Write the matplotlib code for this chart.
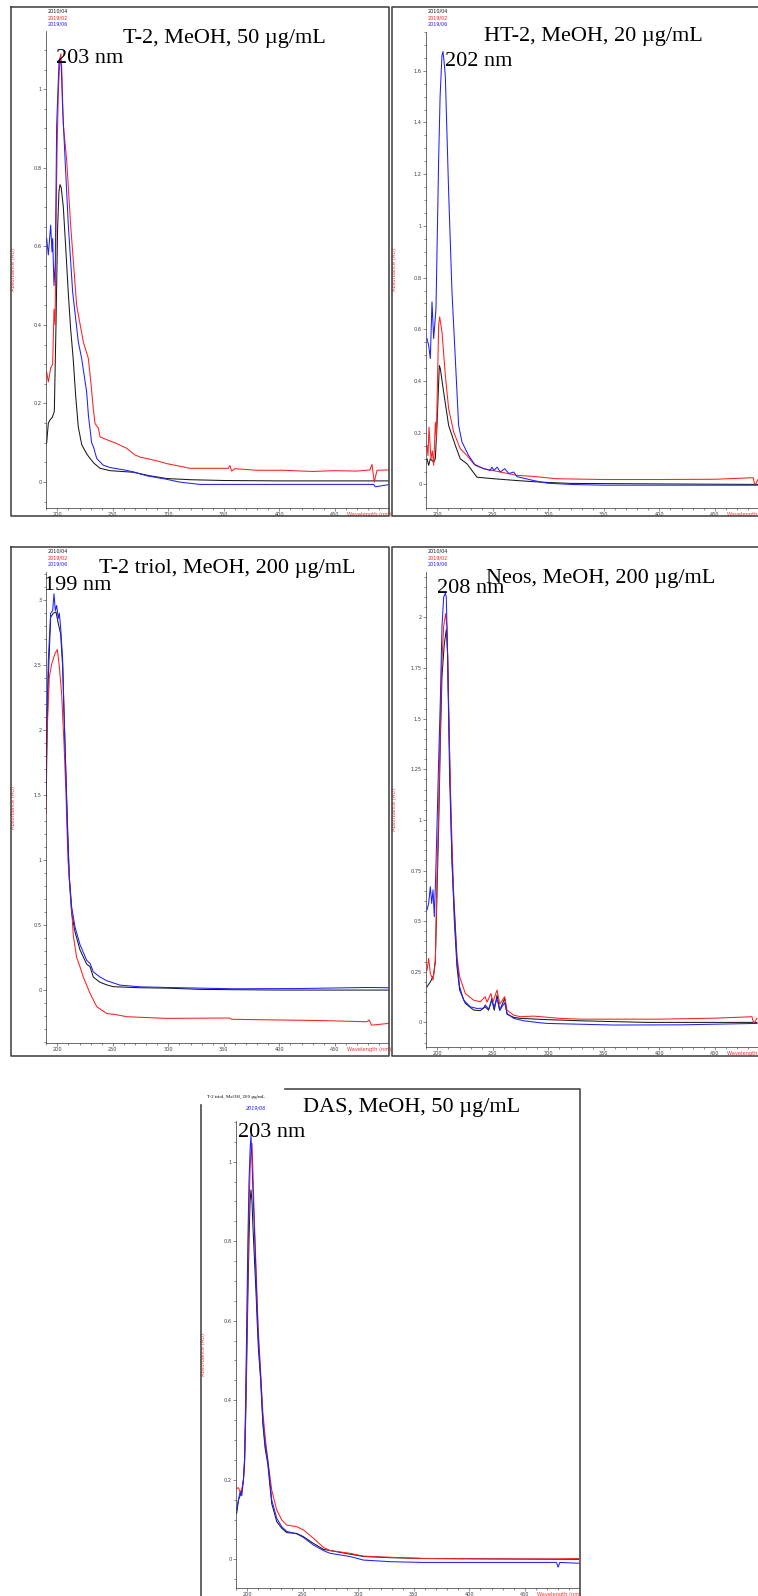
import matplotlib
matplotlib.use("Agg")
import matplotlib.pyplot as plt
from matplotlib.lines import Line2D
from matplotlib.ticker import MultipleLocator, FuncFormatter

W, H = 758, 1596

# ---- T-2, MeOH, 50 ug/mL ----
t2_black_nm = [190.4, 191.9, 193.4, 195.5, 197.3, 198.8, 200.3, 201.5, 202.4, 203.5, 205.4, 207.5, 209.9, 212, 214.4,
               216.5, 218.9, 222, 226.4, 229.5, 233, 238.5, 247.5, 258, 268.3, 283.5, 298.6, 320, 350, 400, 450, 499]
t2_black_au = [0.10, 0.15, 0.158, 0.165, 0.18, 0.40, 0.65, 0.74, 0.757, 0.75, 0.70, 0.60, 0.48, 0.39, 0.31,
               0.22, 0.14, 0.095, 0.072, 0.06, 0.048, 0.035, 0.029, 0.027, 0.025, 0.016, 0.009, 0.006, 0.004, 0.003, 0.003, 0.003]
t2_red_nm = [190.4, 191.9, 194, 195.8, 197, 198, 198.8, 199.8, 201, 202.4, 203.2, 204, 205.4, 208.4, 212, 217.4, 223.4,
             227.9, 230, 232.4, 234, 237, 238.5, 244.4, 253.5, 262.5, 270, 275, 280.5, 292.5, 298.5, 319.5, 354, 355.5,
             357, 360, 380, 403.8, 430, 448.8, 470, 481.7, 483.5, 485.5, 488, 499.7]
t2_red_au = [0.28, 0.255, 0.29, 0.30, 0.44, 0.40, 0.65, 0.85, 1.0, 1.08, 1.09, 1.05, 0.91, 0.82, 0.654, 0.45, 0.357,
             0.315, 0.26, 0.187, 0.149, 0.137, 0.115, 0.108, 0.098, 0.086, 0.069, 0.063, 0.06, 0.052, 0.047, 0.035, 0.035, 0.042,
             0.028, 0.034, 0.030, 0.030, 0.027, 0.029, 0.028, 0.031, 0.045, 0.0, 0.03, 0.031]
t2_blue_nm = [190.4, 191.9, 194, 195.2, 195.8, 197, 198.2, 199.4, 201.5, 202.4, 203.5, 204.8, 207, 209.9, 213.8, 218.9,
              221.9, 226.4, 228, 230.9, 232.5, 235.5, 241.4, 247.5, 260, 268.5, 280.5, 298.6, 310, 328.5, 400, 485, 486.5, 499.7]
t2_blue_au = [0.62, 0.578, 0.654, 0.586, 0.62, 0.50, 0.56, 0.908, 1.07, 1.078, 1.06, 0.95, 0.82, 0.654, 0.484, 0.357,
              0.315, 0.23, 0.17, 0.10, 0.09, 0.060, 0.043, 0.037, 0.031, 0.026, 0.016, 0.007, 0.0, -0.006, -0.006, -0.006, -0.012, -0.006]

# ---- HT-2, MeOH, 20 ug/mL ----
ht2_black_nm = [190.7, 192.2, 193.7, 196.7, 198.2, 199.7, 201.8, 202.7, 205.7, 210.2, 216.2, 220.7, 226.7, 235.7,
                250.8, 271.8, 292.8, 320, 400, 489]
ht2_black_au = [0.099, 0.074, 0.099, 0.086, 0.10, 0.228, 0.46, 0.448, 0.357, 0.228, 0.151, 0.099, 0.08, 0.028,
                0.022, 0.015, 0.009, 0.004, 0.002, 0.0]
ht2_red_nm = [190.7, 191.6, 192.5, 194.3, 195.5, 196.7, 198.2, 199.1, 201.2, 202.1, 204.2, 207.2, 210.2, 214.7, 220.7,
              226.7, 232.7, 241.7, 256.8, 271.8, 283.8, 307.8, 350, 400, 450, 484.6, 486, 489]
ht2_red_au = [0.151, 0.112, 0.222, 0.099, 0.13, 0.074, 0.241, 0.18, 0.616, 0.648, 0.59, 0.422, 0.293, 0.203, 0.138,
              0.112, 0.08, 0.061, 0.048, 0.035, 0.032, 0.022, 0.019, 0.019, 0.02, 0.026, -0.004, 0.02]
ht2_blue_nm = [190.7, 192.2, 193.7, 195.2, 196.7, 198.8, 201.2, 202.5, 204.2, 205.1, 206, 207.2, 210.2, 213.2, 216.2,
               219.2, 222.2, 228.2, 234.2, 241.7, 247.7, 249.2, 251, 252.3, 253.8, 256.8, 260.7, 264.5, 268.8, 271.8,
               286.8, 298.8, 320, 349.9, 400, 489]
ht2_blue_au = [0.564, 0.538, 0.487, 0.706, 0.564, 0.68, 1.26, 1.50, 1.66, 1.674, 1.64, 1.58, 1.13, 0.745, 0.487,
               0.228, 0.164, 0.112, 0.074, 0.061, 0.054, 0.067, 0.054, 0.06, 0.067, 0.048, 0.061, 0.042, 0.048, 0.03,
               0.015, 0.005, 0.0, -0.003, -0.003, -0.003]

# ---- T-2 triol, MeOH, 200 ug/mL ----
tri_black_nm = [189.8, 191.9, 194, 196.4, 198.8, 200.9, 203, 204.8, 207.8, 210.8, 212.9, 215.9, 220.4, 226.4, 229.5,
                232.4, 238.5, 244.5, 250.5, 274.5, 298.6, 330, 400, 499]
tri_black_au = [1.60, 2.41, 2.87, 2.90, 2.91, 2.82, 2.74, 2.49, 1.64, 0.85, 0.59, 0.449, 0.31, 0.2, 0.18,
                0.10, 0.06, 0.04, 0.026, 0.018, 0.015, 0.005, 0.0, 0.0]
tri_red_nm = [189.8, 191.0, 192.8, 194.9, 197.9, 200, 201.8, 203.9, 206, 207.8, 209.6, 211.4, 212.9, 214.4, 217.4,
              220.4, 223.4, 229.5, 235.5, 240, 244.5, 253.5, 262.5, 298.6, 355, 357, 397.9, 440, 478.8, 481, 483, 499]
tri_red_au = [1.36, 2.03, 2.41, 2.51, 2.59, 2.62, 2.49, 2.28, 1.90, 1.51, 1.0, 0.80, 0.62, 0.42, 0.25,
              0.18, 0.10, -0.026, -0.128, -0.154, -0.18, -0.19, -0.205, -0.218, -0.215, -0.225, -0.23, -0.235, -0.244,
              -0.23, -0.27, -0.256]
tri_blue_nm = [189.8, 190.4, 191.9, 194, 195.8, 197, 198.2, 199.4, 200.9, 201.8, 203, 204.8, 206, 207.8, 209, 210.8,
               212.9, 215.9, 220.4, 226.4, 229.5, 232.4, 238.5, 244.5, 256.5, 274.5, 298.6, 358.7, 420, 478.8, 499]
tri_blue_au = [1.51, 2.03, 2.54, 2.90, 2.92, 3.05, 2.92, 2.96, 2.86, 2.90, 2.79, 2.54, 2.15, 1.64, 1.26, 0.87,
               0.64, 0.487, 0.35, 0.23, 0.205, 0.14, 0.10, 0.072, 0.038, 0.025, 0.02, 0.01, 0.012, 0.02, 0.018]

# ---- Neos, MeOH, 200 ug/mL ----
neo_black_nm = [190.7, 193.7, 196.7, 198.2, 199.7, 201.2, 202.7, 204.2, 206.3, 208.1, 209.3, 211.1, 213.2, 215.3,
                217.7, 220.1, 225.2, 232.7, 238.7, 243.2, 246.2, 249.2, 251.3, 253.8, 256.2, 260.7, 262.8, 268.8,
                274.8, 292.8, 328.8, 388.6, 488]
neo_black_au = [0.176, 0.20, 0.234, 0.30, 0.637, 0.967, 1.38, 1.71, 1.87, 1.94, 1.82, 1.30, 0.80, 0.506,
                0.275, 0.16, 0.094, 0.061, 0.058, 0.077, 0.06, 0.119, 0.06, 0.135, 0.06, 0.119, 0.04, 0.025,
                0.02, 0.015, 0.008, 0.0, 0.0]
neo_red_nm = [190.7, 192.2, 193.7, 196.1, 198.2, 199.7, 201.2, 202.7, 204.2, 205.7, 207.5, 208.7, 210.2, 212.3, 214.7,
              217.7, 220.1, 225.2, 232.7, 238.7, 243.2, 244.7, 248.3, 250, 253.8, 256.2, 260.7, 262.8, 268.8, 274.8,
              286.8, 310.8, 328.8, 400, 450, 483.5, 485, 488]
neo_red_au = [0.258, 0.316, 0.242, 0.209, 0.308, 0.72, 1.05, 1.46, 1.79, 1.955, 2.02, 1.955, 1.54, 1.05, 0.637,
              0.324, 0.226, 0.143, 0.11, 0.102, 0.127, 0.10, 0.143, 0.10, 0.16, 0.09, 0.127, 0.06, 0.036, 0.028,
              0.031, 0.02, 0.016, 0.016, 0.021, 0.028, -0.005, 0.02]
neo_blue_nm = [190.7, 192.2, 193.7, 194.9, 196.1, 197.3, 198.5, 199.7, 201.2, 202.7, 204.2, 205.7, 207.2, 208.1,
               209.3, 211.1, 213.2, 215.3, 217.7, 220.1, 223.7, 229.7, 235.7, 241.5, 243.2, 246.2, 249.2, 250.8,
               253.8, 256.2, 260.7, 262.8, 268.8, 277.8, 292.8, 298.8, 358.8, 420, 488]
neo_blue_au = [0.555, 0.588, 0.67, 0.588, 0.654, 0.522, 0.72, 0.967, 1.296, 1.59, 1.955, 2.10, 2.12, 2.10,
               1.79, 1.21, 0.80, 0.555, 0.308, 0.176, 0.11, 0.077, 0.069, 0.07, 0.086, 0.065, 0.11, 0.07,
               0.119, 0.06, 0.097, 0.044, 0.02, 0.008, -0.002, -0.005, -0.013, -0.012, -0.005]

# ---- DAS, MeOH, 50 ug/mL ----
das_nm = [190.4, 192, 193.5, 195, 196.5, 197.5, 198.5, 199.5, 200.5, 201.5, 202.5, 203.3, 204.2, 205, 206, 207, 208,
          209, 210, 212, 214, 216, 218.4, 222, 226.5, 231, 235.5, 244.5, 250.5, 259.5, 268.5, 274.5, 292.5, 304.5,
          328.5, 358.5, 418.5, 478.6, 480, 481.5, 500]
das_black_au = [0.116, 0.149, 0.16, 0.17, 0.20, 0.24, 0.35, 0.50, 0.66, 0.80, 0.90, 0.929, 0.90, 0.84, 0.78, 0.72,
                0.66, 0.59, 0.53, 0.45, 0.34, 0.28, 0.24, 0.14, 0.095, 0.078, 0.067, 0.065, 0.057, 0.04, 0.025,
                0.022, 0.013, 0.007, 0.004, 0.002, 0.001, 0.0, 0.0, 0.0, 0.0]
das_red_au = [0.178, 0.18, 0.17, 0.175, 0.20, 0.25, 0.38, 0.55, 0.72, 0.88, 0.98, 1.03, 1.046, 0.98, 0.88, 0.80,
              0.72, 0.64, 0.57, 0.47, 0.37, 0.31, 0.25, 0.174, 0.124, 0.099, 0.086, 0.082, 0.074, 0.053, 0.03,
              0.022, 0.015, 0.008, 0.005, 0.002, 0.001, 0.001, 0.001, 0.001, 0.002]
das_blue_au = [0.124, 0.149, 0.17, 0.16, 0.20, 0.25, 0.40, 0.60, 0.80, 0.95, 1.03, 1.067, 1.0, 0.93, 0.86, 0.78,
               0.70, 0.62, 0.55, 0.46, 0.35, 0.29, 0.25, 0.149, 0.103, 0.082, 0.07, 0.064, 0.055, 0.036, 0.022,
               0.015, 0.007, -0.002, -0.006, -0.008, -0.008, -0.008, -0.02, -0.008, -0.01]

dates = ["2010/04", "2019/02", "2019/06"]
colors = ["#1a1a1a", "#ff2020", "#2020ff"]

fig = plt.figure(figsize=(W / 100, H / 100), dpi=100)
serif = "Liberation Serif"


def fx(x):
    return x / W


def fy(y):
    return 1 - y / H


def border(xs, ys):
    fig.add_artist(Line2D([fx(x) for x in xs], [fy(y) for y in ys], color="#4a4a4a", lw=1.2))


def label(x, y, s, **kw):
    fig.text(fx(x), fy(y), s, **kw)


def spectrum(left, top, bottom, ylim, major, minor, series):
    ax = fig.add_axes([fx(left), fy(bottom), 343 / W, (bottom - top) / H])
    for nm, au, c in series:
        ax.plot(nm, au, color=c, lw=0.75)
    ax.set_xlim(189.8, 498.8)
    ax.set_ylim(*ylim)
    ax.patch.set_alpha(0)
    for s in ["top", "right"]:
        ax.spines[s].set_visible(False)
    for s in ["left", "bottom"]:
        ax.spines[s].set_linewidth(0.5)
        ax.spines[s].set_color("#333333")
    ax.xaxis.set_major_locator(MultipleLocator(50))
    ax.xaxis.set_minor_locator(MultipleLocator(10))
    ax.yaxis.set_major_locator(MultipleLocator(major))
    ax.yaxis.set_minor_locator(MultipleLocator(minor))
    ax.yaxis.set_major_formatter(FuncFormatter(lambda v, p: f"{v:g}"))
    ax.tick_params(which="both", direction="out", width=0.4, colors="#333333", labelsize=3.6,
                   labelcolor="#3a3a4a", pad=0.8)
    ax.tick_params(which="major", length=2.2)
    ax.tick_params(which="minor", length=1.2)
    ax.annotate("Wavelength (nm)", (461, 0), xycoords=("data", "axes fraction"), xytext=(0, -3.0),
                textcoords="offset points", ha="left", va="top", fontsize=3.7, color="#ff3030",
                annotation_clip=False)
    ax.text(-32 / 343, 0.5, "Absorbance (AU)", transform=ax.transAxes, rotation=90, ha="center",
            va="center", fontsize=3.7, color="#ff3030")
    return ax


def legend(x, y):
    for i, (d, c) in enumerate(zip(dates, colors)):
        label(x, y + i * 6.6, d, fontsize=3.5, color=c, va="center", ha="left")


# row 1
border([11, 389, 389, 11, 11], [7, 7, 516, 516, 7])
border([758, 392, 392, 758], [7, 7, 516, 516])
spectrum(46, 31, 508, (-0.066, 1.148), 0.2, 0.05,
         [(t2_black_nm, t2_black_au, colors[0]), (t2_red_nm, t2_red_au, colors[1]),
          (t2_blue_nm, t2_blue_au, colors[2])])
legend(48, 11)
label(123, 42.7, "T-2, MeOH, 50 \u00b5g/mL", fontsize=16, family=serif, va="baseline")
label(56, 63.3, "203 nm", fontsize=16, family=serif, va="baseline")

spectrum(426, 31.7, 507.7, (-0.09, 1.751), 0.2, 0.05,
         [(ht2_black_nm, ht2_black_au, colors[0]), (ht2_red_nm, ht2_red_au, colors[1]),
          (ht2_blue_nm, ht2_blue_au, colors[2])])
legend(428, 11)
label(484, 41, "HT-2, MeOH, 20 \u00b5g/mL", fontsize=16, family=serif, va="baseline")
label(445, 66, "202 nm", fontsize=16, family=serif, va="baseline")

# row 2
border([11, 389, 389, 11, 11], [547, 547, 1056, 1056, 547])
border([758, 392, 392, 758], [547, 547, 1056, 1056])
spectrum(46, 572.3, 1042.7, (-0.405, 3.215), 0.5, 0.1,
         [(tri_black_nm, tri_black_au, colors[0]), (tri_red_nm, tri_red_au, colors[1]),
          (tri_blue_nm, tri_blue_au, colors[2])])
legend(48, 551)
label(99.3, 573.3, "T-2 triol, MeOH, 200 \u00b5g/mL", fontsize=16, family=serif, va="baseline")
label(44.3, 590, "199 nm", fontsize=16, family=serif, va="baseline")

spectrum(426, 572.3, 1046.7, (-0.12, 2.223), 0.25, 0.05,
         [(neo_black_nm, neo_black_au, colors[0]), (neo_red_nm, neo_red_au, colors[1]),
          (neo_blue_nm, neo_blue_au, colors[2])])
legend(428, 551)
label(486, 582.7, "Neos, MeOH, 200 \u00b5g/mL", fontsize=16, family=serif, va="baseline")
label(437.3, 593.3, "208 nm", fontsize=16, family=serif, va="baseline")

# row 3
border([285, 580, 580], [1089, 1089, 1600])
border([201, 201], [1105, 1600])
spectrum(236, 1120.7, 1588.3, (-0.073, 1.103), 0.2, 0.05,
         [(das_nm, das_black_au, colors[0]), (das_nm, das_red_au, colors[1]),
          (das_nm, das_blue_au, colors[2])])
label(207, 1097, "T-2 triol, MeOH, 200 \u00b5g/mL", fontsize=3.6, family=serif, va="center")
label(246, 1108, "2019/06", fontsize=3.5, color=colors[2], va="center", style="italic")
label(302.7, 1111.7, "DAS, MeOH, 50 \u00b5g/mL", fontsize=16, family=serif, va="baseline")
label(238.3, 1137.3, "203 nm", fontsize=16, family=serif, va="baseline")

fig.savefig("out.png", dpi=100)
